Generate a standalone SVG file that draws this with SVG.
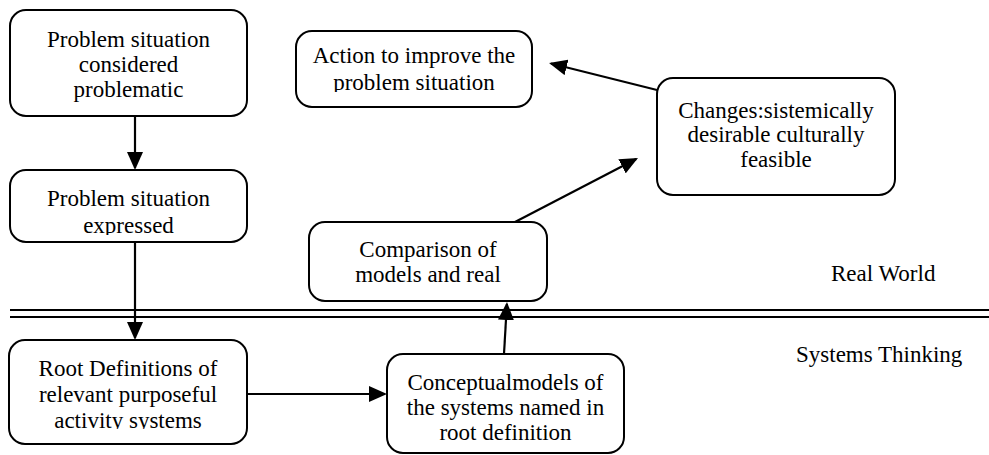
<svg xmlns="http://www.w3.org/2000/svg" width="989" height="455" viewBox="0 0 989 455">
  <style>
    .box { fill: #ffffff; stroke: #000000; stroke-width: 2; }
    .lbl { font-family: "Liberation Serif", "Times New Roman", serif; font-size: 23px; fill: #000000; text-anchor: middle; }
    .side { font-family: "Liberation Serif", "Times New Roman", serif; font-size: 23px; fill: #000000; }
    .edge { fill: none; stroke: #000000; stroke-width: 2.2; marker-end: url(#arrow); }
    .rule { stroke: #000000; stroke-width: 2; }
  </style>
  <defs>
    <marker id="arrow" markerUnits="userSpaceOnUse" markerWidth="18" markerHeight="16" refX="16" refY="8" orient="auto">
      <path d="M0,0 L18,8 L0,16 Z" fill="#000000"/>
    </marker>
    <!-- text areas of the boxes: lines running past the inner margin are cut off -->
    <clipPath id="clip-expressed" clipPathUnits="userSpaceOnUse"><rect x="10" y="170" width="237" height="65"/></clipPath>
    <clipPath id="clip-action" clipPathUnits="userSpaceOnUse"><rect x="296" y="31" width="236" height="61"/></clipPath>
    <clipPath id="clip-root" clipPathUnits="userSpaceOnUse"><rect x="9" y="340" width="238" height="89"/></clipPath>
    <clipPath id="clip-concept" clipPathUnits="userSpaceOnUse"><rect x="387" y="354" width="237" height="87"/></clipPath>
  </defs>

  <!-- boundary between the real world and systems thinking -->
  <g id="divider">
    <line class="rule" x1="10" y1="310" x2="989" y2="310"/>
    <line class="rule" x1="10" y1="317" x2="989" y2="317"/>
  </g>

  <g id="zone-labels">
    <text class="side" x="831" y="281">Real World</text>
    <text class="side" x="796" y="362">Systems Thinking</text>
  </g>

  <g id="connectors">
    <line class="edge" x1="135" y1="116" x2="135" y2="168"/>
    <line class="edge" x1="135" y1="242" x2="135" y2="338"/>
    <line class="edge" x1="247" y1="394" x2="385" y2="394"/>
    <line class="edge" x1="504" y1="354" x2="506.9" y2="304"/>
    <line class="edge" x1="515" y1="222" x2="636.2" y2="158.9"/>
    <line class="edge" x1="657" y1="90" x2="551" y2="63.5"/>
  </g>

  <g id="problem-situation">
    <rect class="box" x="10" y="10" width="237" height="106" rx="16"/>
    <text class="lbl" x="128.5" y="47">Problem situation</text>
    <text class="lbl" x="128.5" y="72">considered</text>
    <text class="lbl" x="128.5" y="97">problematic</text>
  </g>

  <g id="problem-expressed">
    <rect class="box" x="10" y="170" width="237" height="72" rx="16"/>
    <g clip-path="url(#clip-expressed)">
      <text class="lbl" x="128.5" y="206">Problem situation</text>
      <text class="lbl" x="128.5" y="233">expressed</text>
    </g>
  </g>

  <g id="action">
    <rect class="box" x="296" y="31" width="236" height="76" rx="16"/>
    <g clip-path="url(#clip-action)">
      <text class="lbl" x="414" y="63">Action to improve the</text>
      <text class="lbl" x="414" y="90">problem situation</text>
    </g>
  </g>

  <g id="changes">
    <rect class="box" x="657" y="78" width="238" height="117" rx="16"/>
    <text class="lbl" x="776" y="118">Changes:sistemically</text>
    <text class="lbl" x="776" y="142">desirable culturally</text>
    <text class="lbl" x="776" y="167">feasible</text>
  </g>

  <g id="comparison">
    <rect class="box" x="309" y="222" width="238" height="79" rx="16"/>
    <text class="lbl" x="428" y="257">Comparison of</text>
    <text class="lbl" x="428" y="282">models and real</text>
  </g>

  <g id="root-definitions">
    <rect class="box" x="9" y="340" width="238" height="104" rx="16"/>
    <g clip-path="url(#clip-root)">
      <text class="lbl" x="128" y="376">Root Definitions of</text>
      <text class="lbl" x="128" y="402">relevant purposeful</text>
      <text class="lbl" x="128" y="428">activity systems</text>
    </g>
  </g>

  <g id="conceptual-models">
    <rect class="box" x="387" y="354" width="237" height="99" rx="16"/>
    <g clip-path="url(#clip-concept)">
      <text class="lbl" x="505.5" y="390">Conceptualmodels of</text>
      <text class="lbl" x="505.5" y="415">the systems named in</text>
      <text class="lbl" x="505.5" y="440">root definition</text>
    </g>
  </g>
</svg>
